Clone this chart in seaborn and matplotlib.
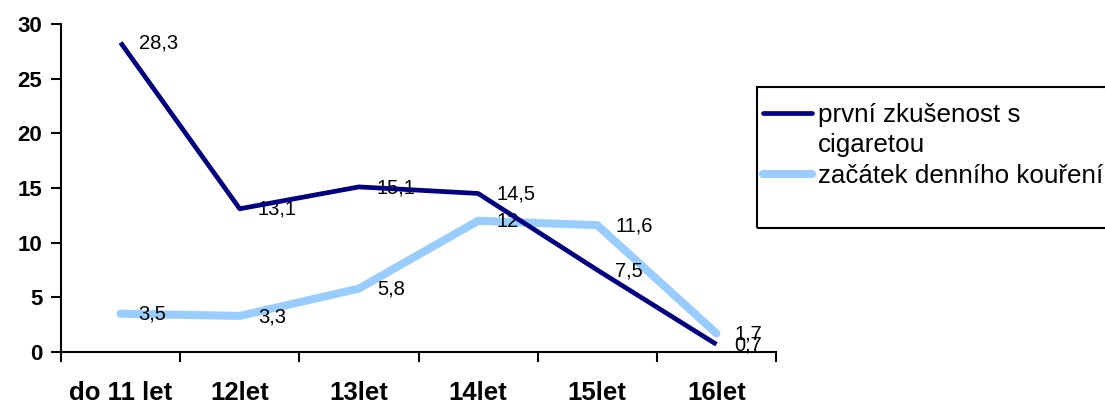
import matplotlib
matplotlib.use("Agg")
import matplotlib.pyplot as plt
import seaborn as sns
import pandas as pd
from matplotlib.patches import Rectangle

categories = ["do 11 let", "12let", "13let", "14let", "15let", "16let"]
series_names = ["první zkušenost s cigaretou", "začátek denního kouření"]
legend_lines = ["první zkušenost s", "cigaretou", "začátek denního kouření"]
first_try = [28.3, 13.1, 15.1, 14.5, 7.5, 0.7]
daily = [3.5, 3.3, 5.8, 12, 11.6, 1.7]
first_labels = ["28,3", "13,1", "15,1", "14,5", "7,5", "0,7"]
daily_labels = ["3,5", "3,3", "5,8", "12", "11,6", "1,7"]
y_ticks = [0, 5, 10, 15, 20, 25, 30]

sns.set_theme(style="white")
plt.rcParams["font.family"] = ["Liberation Sans", "DejaVu Sans"]
plt.rcParams["text.color"] = "black"
plt.rcParams["xtick.color"] = "black"
plt.rcParams["ytick.color"] = "black"

W, H = 1105, 403
fig = plt.figure(figsize=(W / 100, H / 100), dpi=100)
ax = fig.add_axes([61 / W, 1 - 352 / H, (776 - 61) / W, (352 - 24) / H])

pos = [i + 0.5 for i in range(len(categories))]
df = pd.DataFrame({
    "x": pos + pos,
    "y": first_try + daily,
    "serie": [series_names[0]] * len(pos) + [series_names[1]] * len(pos),
})
colors = {series_names[0]: "#000080", series_names[1]: "#99CCFF"}
sns.lineplot(data=df, x="x", y="y", hue="serie", palette=colors, ax=ax, legend=False,
             sort=False)
lines = ax.get_lines()
lines[0].set_linewidth(3.4)
lines[1].set_linewidth(5.8)
lines[1].set_solid_capstyle("round")
lines[0].set_solid_capstyle("butt")
lines[1].set_zorder(3)
lines[0].set_zorder(5)

for xs, ys, labs in [(pos, first_try, first_labels), (pos, daily, daily_labels)]:
    for x, y, t in zip(xs, ys, labs):
        ax.annotate(t, (x, y), xytext=(13, -0.5), textcoords="offset points",
                    ha="left", va="center", fontsize=14.5, color="black", zorder=4)

ax.set_xlim(0, 6)
ax.set_ylim(0, 30)
ax.set_xticks(range(0, 7))
ax.set_xticklabels([])
ax.set_xticks(pos, minor=True)
ax.set_xticklabels(categories, minor=True, fontsize=18.5, fontweight="bold",
                   color="black")
ax.tick_params(axis="x", which="minor", length=0, pad=21)
ax.tick_params(axis="x", which="major", direction="out", length=7, width=1.5,
               color="black", bottom=True)
ax.set_yticks(y_ticks)
ax.set_yticklabels([str(v) for v in y_ticks], fontsize=16, fontweight="bold",
                   color="black")
ax.tick_params(axis="y", direction="out", length=7.5, width=1.5, color="black",
               left=True, pad=6)
ax.set_xlabel("")
ax.set_ylabel("")
for s in ["top", "right"]:
    ax.spines[s].set_visible(False)
for s in ["left", "bottom"]:
    ax.spines[s].set_color("black")
    ax.spines[s].set_linewidth(1.5)
ax.grid(False)

# legend frame
fig.patches.append(Rectangle((757 / W, 1 - 228 / H), (1110 - 757) / W, (228 - 87) / H,
                             transform=fig.transFigure, fill=False, edgecolor="black",
                             linewidth=1.5))
handles = [plt.Line2D([], [], color=colors[series_names[0]], linewidth=3.4),
           plt.Line2D([], [], color="none", linewidth=0),
           plt.Line2D([], [], color=colors[series_names[1]], linewidth=5.8,
                      solid_capstyle="round")]
leg = fig.legend(handles, legend_lines, loc="upper left",
                 bbox_to_anchor=(763 / W, 1 - 103 / H), frameon=False,
                 fontsize=18.7, handlelength=1.9, handletextpad=0.2,
                 labelspacing=0.25, borderaxespad=0, borderpad=0.0)
for t in leg.get_texts():
    t.set_color("black")

fig.savefig("out.png", dpi=100, facecolor="white")
